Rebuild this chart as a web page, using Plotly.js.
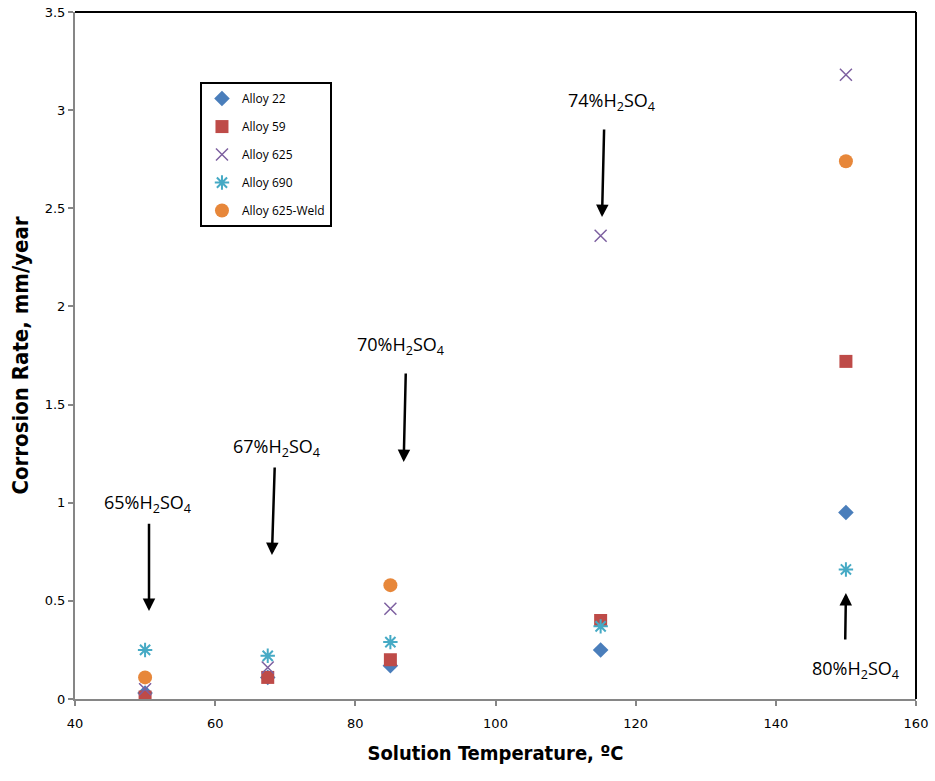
<!DOCTYPE html>
<html>
<head>
<meta charset="utf-8">
<script src="https://cdn.plot.ly/plotly-3.0.1.min.js"></script>
<style>html,body{margin:0;padding:0;background:#fff;}#chart{width:935px;height:781px;}</style>
</head>
<body>
<div id="chart"></div>
<script>
// Data
var temps = [50, 67.5, 85, 115, 150];
var alloy22 = [0.03, 0.11, 0.17, 0.25, 0.95];
var alloy59 = [0.01, 0.11, 0.20, 0.40, 1.72];
var alloy625 = [0.05, 0.16, 0.46, 2.36, 3.18];
var alloy690 = [0.25, 0.22, 0.29, 0.37, 0.66];
var weldTemps = [50, 85, 150];
var alloy625Weld = [0.11, 0.58, 2.74];

var seriesNames = ['Alloy 22', 'Alloy 59', 'Alloy 625', 'Alloy 690', 'Alloy 625-Weld'];

// Annotation labels (acid concentrations)
var acidLabels = ['65%H<sub>2</sub>SO<sub>4</sub>', '67%H<sub>2</sub>SO<sub>4</sub>', '70%H<sub>2</sub>SO<sub>4</sub>', '74%H<sub>2</sub>SO<sub>4</sub>', '80%H<sub>2</sub>SO<sub>4</sub>'];
var labelX = [50.4, 68.7, 86.4, 116.5, 151.3];
var labelY = [0.998, 1.279, 1.803, 3.046, 0.148];
var arrowHeadX = [50.56, 68.1, 86.9, 115.2, 150.0];
var arrowHeadY = [0.448, 0.733, 1.207, 2.455, 0.540];
var arrowTailX = [50.56, 68.5, 87.2, 115.5, 149.9];
var arrowTailY = [0.90, 1.187, 1.666, 2.909, 0.295];

var traces = [
  {x: temps, y: alloy22, name: seriesNames[0], legendgroup: 'a', mode: 'markers', type: 'scatter',
   marker: {symbol: 'diamond', size: 12, color: '#4A7EBB'}},
  {x: temps, y: alloy59, name: seriesNames[1], legendgroup: 'b', mode: 'markers', type: 'scatter',
   marker: {symbol: 'square', size: 13, color: '#BE4B48'}},
  {x: temps, y: alloy625, name: seriesNames[2], legendgroup: 'c', mode: 'markers', type: 'scatter',
   marker: {symbol: 'x-thin-open', size: 12, color: '#7D60A0', line: {width: 1.5, color: '#7D60A0'}}},
  {x: temps, y: alloy690, name: seriesNames[3], legendgroup: 'd', mode: 'markers', type: 'scatter',
   marker: {symbol: 'asterisk-open', size: 12, color: '#46AAC5', line: {width: 2, color: '#46AAC5'}}},
  {x: weldTemps, y: alloy625Weld, name: seriesNames[4], legendgroup: 'e', mode: 'markers', type: 'scatter',
   marker: {symbol: 'circle', size: 14, color: '#E7873A'}}
];

var annFont = {family: 'Open Sans, sans-serif', size: 18, color: '#000'};
var annotations = [];
for (var i = 0; i < acidLabels.length; i++) {
  annotations.push({x: labelX[i], y: labelY[i], xref: 'x', yref: 'y', text: acidLabels[i],
    showarrow: false, font: annFont, xanchor: 'center', yanchor: 'middle'});
  annotations.push({x: arrowHeadX[i], y: arrowHeadY[i], xref: 'x', yref: 'y',
    ax: arrowTailX[i], ay: arrowTailY[i], axref: 'x', ayref: 'y', text: '',
    showarrow: true, arrowhead: 2, arrowsize: 1, arrowwidth: 2.5, arrowcolor: '#000'});
}

var layout = {
  width: 935, height: 781,
  margin: {l: 75, r: 19, t: 12, b: 82},
  paper_bgcolor: '#fff', plot_bgcolor: '#fff',
  showlegend: true,
  legend: {x: 0.1486, y: 0.898, xanchor: 'left', yanchor: 'top',
    bordercolor: '#000', borderwidth: 2, bgcolor: '#fff',
    font: {family: 'Open Sans, sans-serif', size: 12, color: '#000'},
    tracegroupgap: 9, itemwidth: 30},
  xaxis: {range: [40, 160], dtick: 20, tick0: 40, showgrid: false, zeroline: false,
    showline: true, linecolor: '#868686', linewidth: 2, ticks: 'outside', ticklen: 5, tickcolor: '#868686', tickwidth: 2,
    ticklabelstandoff: 6,
    tickfont: {family: 'DejaVu Sans, sans-serif', size: 13, color: '#000'},
    title: {text: 'Solution Temperature, ºC', standoff: 16,
      font: {family: 'Liberation Sans Narrow, DejaVu Sans Condensed, sans-serif', size: 20, color: '#000', weight: 'bold'}}},
  yaxis: {range: [0, 3.5], dtick: 0.5, tick0: 0, showgrid: false, zeroline: false,
    showline: true, linecolor: '#868686', linewidth: 2, ticks: 'outside', ticklen: 5, tickcolor: '#868686', tickwidth: 2,
    tickfont: {family: 'DejaVu Sans, sans-serif', size: 13, color: '#000'},
    title: {text: 'Corrosion Rate, mm/year', standoff: 10,
      font: {family: 'Liberation Sans Narrow, DejaVu Sans Condensed, sans-serif', size: 22, color: '#000', weight: 'bold'}}},
  shapes: [
    {type: 'line', xref: 'paper', yref: 'paper', x0: 0, x1: 1, y0: 1, y1: 1, line: {color: '#000', width: 2}},
    {type: 'line', xref: 'paper', yref: 'paper', x0: 1, x1: 1, y0: 0, y1: 1, line: {color: '#000', width: 2}}
  ],
  annotations: annotations
};

Plotly.newPlot('chart', traces, layout, {displayModeBar: false});
</script>
</body>
</html>
